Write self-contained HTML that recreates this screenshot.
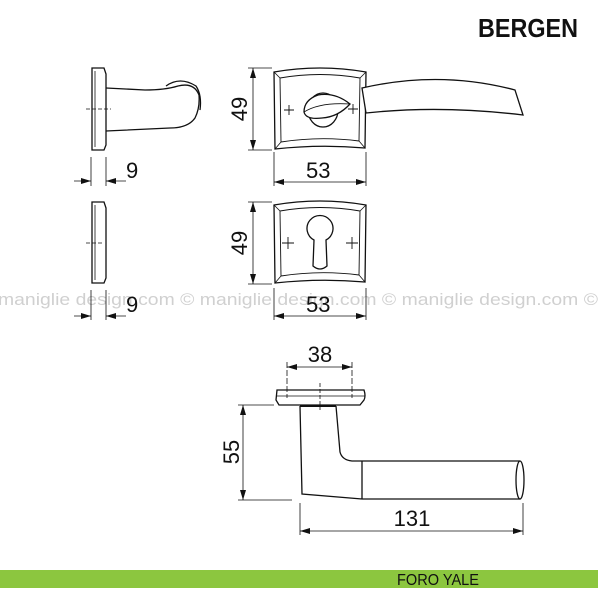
<!DOCTYPE html>
<html><head><meta charset="utf-8"><style>
html,body{margin:0;padding:0;background:#fff;}
svg{display:block;}
text{font-family:"Liberation Sans",sans-serif;}
</style></head><body>
<svg width="600" height="600" viewBox="0 0 600 600" xmlns="http://www.w3.org/2000/svg">
<defs>
<marker id="a" viewBox="0 0 10 6" refX="10" refY="3" markerWidth="11" markerHeight="6" markerUnits="userSpaceOnUse" orient="auto-start-reverse"><path d="M0,0 L10,3 L0,6Z" fill="#111"/></marker>
</defs>
<text x="478" y="37" font-size="26" font-weight="bold" fill="#111" textLength="100" lengthAdjust="spacingAndGlyphs">BERGEN</text>

<!-- watermark -->
<text x="-2" y="305" font-size="17" fill="#d0d0d0" textLength="600" lengthAdjust="spacingAndGlyphs">maniglie design.com © maniglie design.com © maniglie design.com ©</text>

<g fill="none" stroke="#111" stroke-width="1.3">
<!-- Top-left side view -->
<path d="M92,68 H104 L106,74 V145 L104,150 H92 Z"/>
<line x1="95" y1="71" x2="95" y2="147" stroke-width="0.8"/>
<path d="M106,88 L145,90 Q165,90 178,86 Q194,82 199,95 Q200,108 195,118 Q188,128 170,128 L106,131"/>
<path d="M166,86 Q180,76 196,86 Q202,95 200,110"/>
<line x1="86" y1="109" x2="111" y2="109" stroke-dasharray="4,2" stroke-width="0.8"/>
<line x1="91" y1="157" x2="91" y2="186" stroke-width="0.8"/>
<line x1="106" y1="157" x2="106" y2="186" stroke-width="0.8"/>
<line x1="74" y1="181" x2="91" y2="181" marker-end="url(#a)" stroke-width="0.8"/>
<line x1="126" y1="181" x2="106" y2="181" marker-end="url(#a)" stroke-width="0.8"/>

<!-- Top rose -->
<path d="M274,72 Q320,64 366,72 L365,148 Q320,144 275,149 Z"/>
<path d="M280,78 Q320,71 360,78 L359,141 Q320,136 281,142 Z" stroke-width="0.9"/>
<line x1="274" y1="72" x2="280" y2="78" stroke-width="0.8"/><line x1="366" y1="72" x2="360" y2="78" stroke-width="0.8"/>
<line x1="275" y1="149" x2="281" y2="142" stroke-width="0.8"/><line x1="365" y1="148" x2="359" y2="141" stroke-width="0.8"/>
<path d="M284,110 h10 M289,105 v10 M348,109 h10 M353,104 v10" stroke-width="0.9"/>
<ellipse cx="323" cy="110" rx="15" ry="17" />
<path d="M304,112 Q304,100 318,95 Q335,92 350,104 Q338,117 322,118 Q306,120 304,112 Z" fill="#fff"/>
<path d="M304,112 Q320,102 350,104" stroke-width="0.8"/>
<!-- lever -->
<path d="M362,88 Q440,70 515,90 L523,115 Q440,105 366,113 Z" fill="#fff"/>
<!-- dims 49 / 53 -->
<g stroke-width="0.8">
<line x1="248" y1="68" x2="272" y2="68"/><line x1="248" y1="150" x2="272" y2="150"/>
<line x1="253" y1="68" x2="253" y2="150" marker-start="url(#a)" marker-end="url(#a)"/>
<line x1="274" y1="152" x2="274" y2="186"/><line x1="366" y1="152" x2="366" y2="186"/>
<line x1="274" y1="182" x2="366" y2="182" marker-start="url(#a)" marker-end="url(#a)"/>
</g>

<!-- Second row side view -->
<path d="M92,202 H104 L106,208 V278 L104,283 H92 Z"/>
<line x1="95" y1="205" x2="95" y2="280" stroke-width="0.8"/>
<line x1="86" y1="243" x2="104" y2="243" stroke-dasharray="4,2" stroke-width="0.8"/>
<g stroke-width="0.8">
<line x1="91" y1="290" x2="91" y2="320"/><line x1="106" y1="290" x2="106" y2="320"/>
<line x1="74" y1="316" x2="91" y2="316" marker-end="url(#a)"/>
<line x1="126" y1="316" x2="106" y2="316" marker-end="url(#a)"/>
</g>

<!-- Second rose -->
<path d="M274,205 Q320,197 366,205 L365,282 Q320,278 275,283 Z"/>
<path d="M280,211 Q320,204 360,211 L359,275 Q320,270 281,276 Z" stroke-width="0.9"/>
<line x1="274" y1="205" x2="280" y2="211" stroke-width="0.8"/><line x1="366" y1="205" x2="360" y2="211" stroke-width="0.8"/>
<line x1="275" y1="283" x2="281" y2="276" stroke-width="0.8"/><line x1="365" y1="282" x2="359" y2="275" stroke-width="0.8"/>
<path d="M282,243 h12 M288,237 v12 M346,243 h12 M352,237 v12" stroke-width="0.9"/>
<path d="M314,240 A13,13 0 1 1 326,240 L327,266 Q320,272 313,266 Z"/>
<g stroke-width="0.8">
<line x1="248" y1="202" x2="272" y2="202"/><line x1="248" y1="284" x2="272" y2="284"/>
<line x1="253" y1="202" x2="253" y2="284" marker-start="url(#a)" marker-end="url(#a)"/>
<line x1="274" y1="288" x2="274" y2="320"/><line x1="366" y1="288" x2="366" y2="320"/>
<line x1="274" y1="316" x2="366" y2="316" marker-start="url(#a)" marker-end="url(#a)"/>
</g>

<!-- Bottom handle -->
<path d="M277,390 H364 Q366,396 364,400 L360,405 H279 L276,400 Z"/>
<line x1="277" y1="396" x2="365" y2="396" stroke-width="0.8"/>
<path d="M300,406 L302,494 L362,499 M336,406 L340,452 Q342,460 352,461 L362,461 M362,461 H520 M362,499 H520 M362,461 V499"/>
<ellipse cx="520" cy="480" rx="4" ry="19" fill="#fff"/>
<line x1="300" y1="406" x2="336" y2="406" stroke-width="2"/>
<g stroke-width="0.8">
<line x1="320" y1="383" x2="320" y2="410" stroke-dasharray="4,2"/>
<line x1="287" y1="362" x2="287" y2="398" stroke-dasharray="6,2"/>
<line x1="352" y1="362" x2="352" y2="398" stroke-dasharray="6,2"/>
<line x1="287" y1="367" x2="352" y2="367" marker-start="url(#a)" marker-end="url(#a)"/>
<line x1="238" y1="405" x2="274" y2="405"/><line x1="238" y1="500" x2="292" y2="500"/>
<line x1="243" y1="405" x2="243" y2="500" marker-start="url(#a)" marker-end="url(#a)"/>
<line x1="300" y1="503" x2="300" y2="535"/><line x1="523" y1="503" x2="523" y2="535"/>
<line x1="300" y1="531" x2="523" y2="531" marker-start="url(#a)" marker-end="url(#a)"/>
</g>
</g>

<g font-size="22" fill="#111">
<text x="126" y="178">9</text>
<text x="306" y="178">53</text>
<text transform="translate(247,109) rotate(-90)" text-anchor="middle">49</text>
<text x="126" y="312">9</text>
<text x="306" y="312">53</text>
<text transform="translate(247,243) rotate(-90)" text-anchor="middle">49</text>
<text x="320" y="362" text-anchor="middle">38</text>
<text transform="translate(239,452) rotate(-90)" text-anchor="middle">55</text>
<text x="412" y="526" text-anchor="middle">131</text>
</g>

<rect x="0" y="570" width="598" height="18" fill="#8cc63f"/>
<text x="438" y="585" font-size="16" fill="#111" text-anchor="middle" textLength="82" lengthAdjust="spacingAndGlyphs">FORO YALE</text>
</svg>
</body></html>
